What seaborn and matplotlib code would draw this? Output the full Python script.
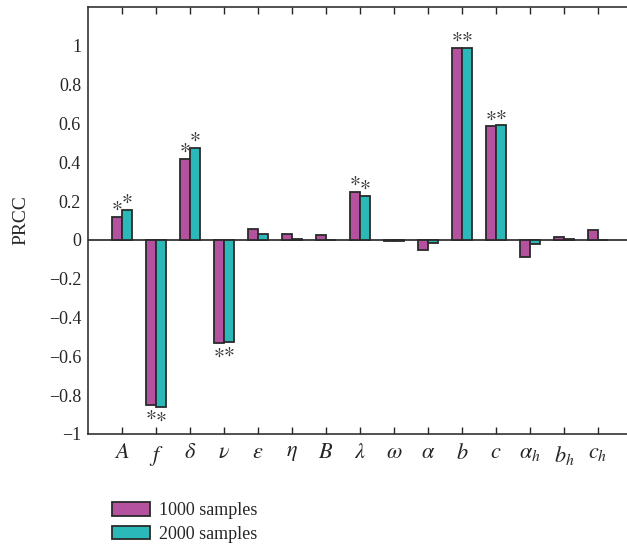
import matplotlib
matplotlib.use("Agg")
import matplotlib.pyplot as plt
import seaborn as sns
import pandas as pd
import numpy as np

params = ["A", "f", r"\delta", r"\nu", r"\varepsilon", r"\eta", "B", r"\lambda", r"\omega",
          r"\alpha", "b", "c", r"\alpha_h", "b_h", "c_h"]
prcc_1000 = [0.12, -0.85, 0.416, -0.53, 0.058, 0.032, 0.024, 0.247, -0.007, -0.053,
             0.99, 0.585, -0.088, 0.015, 0.052]
prcc_2000 = [0.155, -0.86, 0.474, -0.525, 0.029, 0.003, -0.003, 0.228, -0.004, -0.017,
             0.99, 0.59, -0.02, 0.003, 0.002]
significant = [True, True, True, True, False, False, False, True, False, False,
               True, True, False, False, False]
series = ["1000 samples", "2000 samples"]
colors = ["#B5529F", "#2BB8B8"]
yticks = [-1, -0.8, -0.6, -0.4, -0.2, 0, 0.2, 0.4, 0.6, 0.8, 1]

sns.set_style("white")
plt.rcParams["font.family"] = ["Liberation Serif", "DejaVu Serif"]
plt.rcParams["mathtext.fontset"] = "stix"

labels = ["$" + p + "$" for p in params]
df = pd.DataFrame({
    "param": labels * 2,
    "samples": [series[0]] * len(labels) + [series[1]] * len(labels),
    "PRCC": prcc_1000 + prcc_2000,
})

W, H = 627, 552
fig = plt.figure(figsize=(W / 100, H / 100), dpi=100)
ax = fig.add_axes([88 / W, 1 - 434 / H, 544 / W, 427 / H])

sns.barplot(data=df, x="param", y="PRCC", hue="samples", order=labels,
            hue_order=series, palette=colors, width=0.6, ax=ax,
            edgecolor="#2a2a2a", linewidth=1.3, saturation=1, legend=True)

ax.axhline(0, color="#222222", lw=1.2, zorder=0.5)
ax.set_xlim(-1, 15)
ax.set_ylim(-1, 1.2)
ax.set_yticks(yticks)
ax.set_yticklabels(["\u22121" if v == -1 else ("0" if v == 0 else ("1" if v == 1 else
                    ("\u2212" if v < 0 else "") + ("%g" % abs(v)))) for v in yticks])
ax.set_xlabel("")
ax.set_ylabel("PRCC", fontsize=14, labelpad=14)
ax.tick_params(axis="y", direction="in", length=5, width=1, labelsize=13, pad=5)
ax.tick_params(axis="x", direction="in", length=5, width=1, labelsize=16, pad=7,
               top=True, bottom=True)
for s in ax.spines.values():
    s.set_color("#333333")
    s.set_linewidth(1.2)

# asterisks
for ci, cont in enumerate(ax.containers):
    vals = prcc_1000 if ci == 0 else prcc_2000
    for i, bar in enumerate(cont):
        if not significant[i]:
            continue
        x = bar.get_x() + bar.get_width() / 2
        v = vals[i]
        dy = 7.5 if v >= 0 else -7.5
        ax.annotate(r"$\ast$", (x, v), xytext=(0, dy), textcoords="offset points",
                    ha="center", va="center", fontsize=15, color="#333333")

handles, lbls = ax.get_legend_handles_labels()
ax.get_legend().remove()
fig.legend(handles, lbls, loc="upper left", bbox_to_anchor=(105 / W, 1 - 495 / H),
           frameon=False, fontsize=13, handlelength=2.1, handleheight=0.75,
           labelspacing=0.35, handletextpad=0.5, borderaxespad=0)

fig.savefig("out.png", dpi=100)
